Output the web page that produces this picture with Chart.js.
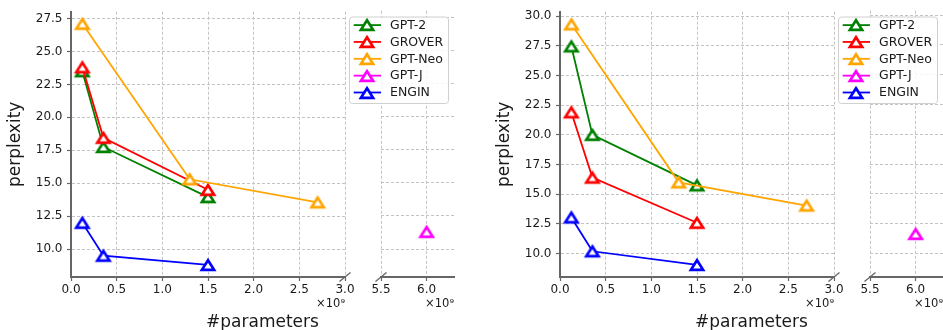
<!DOCTYPE html>
<html>
<head>
<meta charset="utf-8">
<script src="https://cdn.jsdelivr.net/npm/chart.js@4.4.0/dist/chart.umd.min.js"></script>
<style>
  html, body { margin: 0; padding: 0; background: #fff; overflow: hidden; }
  body { width: 943px; height: 330px; position: relative; }
  canvas { position: absolute; top: 0; }
  .xlabel { position: absolute; top: 311px; height: 20px; line-height: 20px; font: 17px "DejaVu Sans", sans-serif; color: #1a1a1a; text-align: center; }
</style>
</head>
<body>
<script>
const seriesNames = ['GPT-2', 'GROVER', 'GPT-Neo', 'GPT-J', 'ENGIN'];
const seriesColors = ['#008000', '#ff0000', '#ffa500', '#ff00ff', '#0000ff'];
const xTitle = '#parameters';
const yTitle = 'perplexity';
const xOffsetText = '×10⁹';

// model sizes, in units of 1e9 parameters
const gpt2Sizes = [0.124, 0.355, 1.5];
const groverSizes = [0.124, 0.355, 1.5];
const neoSizes = [0.125, 1.3, 2.7];
const gptjSizes = [6.0];
const enginSizes = [0.124, 0.355, 1.5];

// left plot
const leftGpt2 = [23.5, 17.75, 13.95];
const leftGrover = [23.8, 18.45, 14.5];
const leftNeo = [27.1, 15.3, 13.55];
const leftGptj = [11.3];
const leftEngin = [12.0, 9.5, 8.8];

// right plot
const rightGpt2 = [27.45, 20.0, 15.75];
const rightGrover = [21.9, 16.4, 12.6];
const rightNeo = [29.3, 16.0, 14.05];
const rightGptj = [11.65];
const rightEngin = [13.05, 10.2, 9.05];

// ticks
const xTicksMain = [0, 0.5, 1.0, 1.5, 2.0, 2.5, 3.0];
const xTicksBreak = [5.5, 6.0];
const yTicksLeft = [10, 12.5, 15, 17.5, 20, 22.5, 25, 27.5];
const yTicksRight = [10, 12.5, 15, 17.5, 20, 22.5, 25, 27.5, 30];

const allSizes = [gpt2Sizes, groverSizes, neoSizes, gptjSizes, enginSizes];

Chart.defaults.font.family = '"DejaVu Sans", sans-serif';
Chart.defaults.font.size = 12;
Chart.defaults.color = '#1a1a1a';

const spineColor = '#666';
const gridColor = '#c4c4c4';

// hollow triangle like matplotlib '^' (centered on its box)
function triangleImage(color) {
  const c = document.createElement('canvas');
  c.width = 22; c.height = 20;
  const g = c.getContext('2d');
  const cx = 11, cy = 10, hw = 6.1, hh = 4.8;
  g.beginPath();
  g.moveTo(cx, cy - hh);
  g.lineTo(cx + hw, cy + hh);
  g.lineTo(cx - hw, cy + hh);
  g.closePath();
  g.fillStyle = '#fff';
  g.fill();
  g.lineWidth = 2.7;
  g.lineJoin = 'miter';
  g.strokeStyle = color;
  g.stroke();
  return c;
}
const markers = seriesColors.map(triangleImage);

// little diagonal marks where the x axis is cut
const breakMarks = {
  id: 'breakMarks',
  afterDraw(chart, args, opts) {
    if (!opts.side) return;
    const a = chart.chartArea;
    const x = opts.side == 'right' ? a.right : a.left;
    const y = a.bottom;
    const ctx = chart.ctx;
    ctx.save();
    ctx.strokeStyle = spineColor;
    ctx.lineWidth = 1.3;
    ctx.beginPath();
    ctx.moveTo(x - 5.5, y + 4.5);
    ctx.lineTo(x + 5.5, y - 4.5);
    ctx.stroke();
    ctx.restore();
  }
};

const boxLegend = {
  id: 'boxLegend',
  afterDraw(chart, args, opts) {
    if (!opts.show) return;
    const ctx = chart.ctx;
    const a = chart.chartArea;
    const w = 99, h = 86.5, rowH = 16.85;
    const x0 = a.right - 6 - w, y0 = a.top + 5.7;
    ctx.save();
    ctx.beginPath();
    ctx.roundRect(x0 + 0.5, y0 + 0.5, w, h, 3);
    ctx.fillStyle = 'rgba(255,255,255,0.85)';
    ctx.fill();
    ctx.strokeStyle = '#d0d0d0';
    ctx.lineWidth = 1;
    ctx.stroke();
    ctx.font = '12.5px "DejaVu Sans", sans-serif';
    ctx.textBaseline = 'middle';
    ctx.textAlign = 'left';
    for (let i = 0; i < seriesNames.length; i++) {
      const y = y0 + 8.6 + i * rowH;
      ctx.strokeStyle = seriesColors[i];
      ctx.lineWidth = 1.8;
      ctx.beginPath();
      ctx.moveTo(x0 + 4.7, y);
      ctx.lineTo(x0 + 32, y);
      ctx.stroke();
      ctx.drawImage(markers[i], Math.round(x0 + 18.3 - 11), Math.round(y - 10));
      ctx.fillStyle = '#1a1a1a';
      ctx.fillText(seriesNames[i], x0 + 41, y + 0.5);
    }
    ctx.restore();
  }
};

Chart.register(breakMarks, boxLegend);

function buildDatasets(values, xMin, xMax) {
  return seriesNames.map(function (name, i) {
    const pts = [];
    for (let k = 0; k < allSizes[i].length; k++) {
      const s = allSizes[i][k];
      if (s >= xMin && s <= xMax) pts.push({x: s, y: values[i][k]});
    }
    return {
      label: name,
      data: pts,
      showLine: true,
      borderColor: seriesColors[i],
      backgroundColor: seriesColors[i],
      borderWidth: 1.8,
      pointStyle: markers[i],
      pointRadius: 9,
      order: -i,
      clip: 12
    };
  });
}

function addCanvas(left, width) {
  const cv = document.createElement('canvas');
  cv.width = width;
  cv.height = 330;
  cv.style.left = left + 'px';
  cv.style.width = width + 'px';
  cv.style.height = '330px';
  document.body.appendChild(cv);
  return cv;
}

function xScale(min, max, ticks) {
  return {
    type: 'linear',
    min: min,
    max: max,
    afterBuildTicks: function (scale) { scale.ticks = ticks.map(v => ({value: v})); },
    afterFit: function (scale) { scale.height = 53; },
    ticks: { padding: 2, maxRotation: 0, autoSkip: false, callback: v => v.toFixed(1) },
    grid: { color: gridColor, lineWidth: 1, drawTicks: true, tickLength: 4, tickColor: spineColor, tickWidth: 1.2, tickBorderDash: [] },
    border: { display: true, color: spineColor, width: 2, dash: [3, 2] },
    title: { display: true, text: xOffsetText, align: 'end', font: { size: 11.5 }, padding: { top: 0, bottom: 19 } }
  };
}

function yScale(min, max, ticks, shown) {
  return {
    type: 'linear',
    min: min,
    max: max,
    afterBuildTicks: function (scale) { scale.ticks = ticks.map(v => ({value: v})); },
    afterFit: function (scale) { scale.width = shown ? 71 : 0; },
    ticks: { display: shown, padding: 4.5, callback: v => v.toFixed(1) },
    grid: { color: gridColor, lineWidth: 1, drawTicks: shown, tickLength: 4, tickColor: spineColor, tickWidth: 1.2, tickBorderDash: [] },
    border: { display: shown, color: spineColor, width: 2, dash: [3, 2] },
    title: { display: shown, text: yTitle, font: { size: 17 }, padding: { top: 5, bottom: 0 } }
  };
}

function makePanel(offset, yMin, yMax, yTicks, values) {
  // part of the axis from 0 to 3e9
  new Chart(addCanvas(offset, 357), {
    type: 'scatter',
    data: { datasets: buildDatasets(values, 0, 3.0) },
    options: {
      responsive: false,
      animation: false,
      events: [],
      layout: { padding: { left: 0, top: 5, right: 12, bottom: 0 } },
      scales: { x: xScale(0, 3.0, xTicksMain), y: yScale(yMin, yMax, yTicks, true) },
      plugins: { legend: { display: false }, tooltip: { enabled: false }, breakMarks: { side: 'right' }, boxLegend: { show: false } }
    }
  });
  // part after the cut, 5.5e9 and up
  new Chart(addCanvas(offset + 345, 125), {
    type: 'scatter',
    data: { datasets: buildDatasets(values, 5.5, 6.3) },
    options: {
      responsive: false,
      animation: false,
      events: [],
      layout: { padding: { left: 36, top: 5, right: 16, bottom: 0 } },
      scales: { x: xScale(5.5, 6.3, xTicksBreak), y: yScale(yMin, yMax, yTicks, false) },
      plugins: { legend: { display: false }, tooltip: { enabled: false }, breakMarks: { side: 'left' }, boxLegend: { show: true } }
    }
  });
  const lab = document.createElement('div');
  lab.className = 'xlabel';
  lab.style.left = (offset + 71) + 'px';
  lab.style.width = '383px';
  lab.textContent = xTitle;
  document.body.appendChild(lab);
}

makePanel(0, 7.885, 28.015, yTicksLeft, [leftGpt2, leftGrover, leftNeo, leftGptj, leftEngin]);
makePanel(489, 8.035, 30.365, yTicksRight, [rightGpt2, rightGrover, rightNeo, rightGptj, rightEngin]);
</script>
</body>
</html>
